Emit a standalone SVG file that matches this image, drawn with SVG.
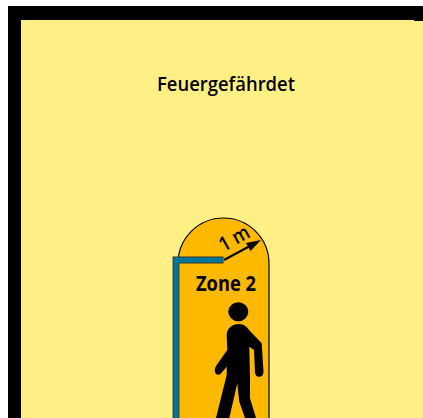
<svg xmlns="http://www.w3.org/2000/svg" width="423" height="418" viewBox="0 0 423 418">
<style>
text{font-family:"Open Sans","Noto Sans",sans-serif;fill:#000}
.lbl{font-size:20px;font-weight:600}
.b{font-size:21px;font-weight:700}
</style>
<rect width="423" height="418" fill="#fff"/>
<g id="wall"><rect x="8" y="6" width="415" height="412" fill="#000"/></g>
<g id="feuergefaehrdet"><path d="M21 20H414V21H423V418H21Z" fill="#fff085"/>
<text class="lbl" x="226" y="91" text-anchor="middle" textLength="138" lengthAdjust="spacingAndGlyphs">Feuergefährdet</text></g>
<g id="zone2">
<path d="M178 418V263.500A45.500 45.500 0 0 1 269 263.500V418" fill="#fdb900" stroke="#000" stroke-width="1.200"/>
<text class="b" x="226" y="291" text-anchor="middle" textLength="60" lengthAdjust="spacingAndGlyphs">Zone 2</text>
</g>
<g id="door"><path d="M176 418V260H223.500" fill="none" stroke="#333" stroke-width="6.800"/><path d="M176 418V260H223" fill="none" stroke="#00769d" stroke-width="5"/></g>
<g id="connectors">
<path d="M224 260L250 246" stroke="#000" stroke-width="2" fill="none"/>
<path d="M261 240L246 243L250.500 251Z" fill="#000"/>
</g>
<text class="lbl" transform="translate(223.500 252) rotate(-29)" x="0" y="0" textLength="32" lengthAdjust="spacingAndGlyphs">1 m</text>
<g id="person">
<ellipse cx="238.300" cy="311.700" rx="10" ry="9.500" fill="#000"/>
<path d="M226.700 335C227 328 232 324 239 324C244 324 247 327 249 330L261.700 343.300L263.500 371.700C263.500 378.500 255 378.500 255 372.300L254 350L249.300 346.700L250 378.300L250 398.300L256 418H245L239.300 401.700L237.300 383.300L229.300 418H216L226.700 375V366.700L220.500 374C216 377 212.500 371 216.700 365L227.300 350Z" fill="#000"/>
</g>
</svg>
